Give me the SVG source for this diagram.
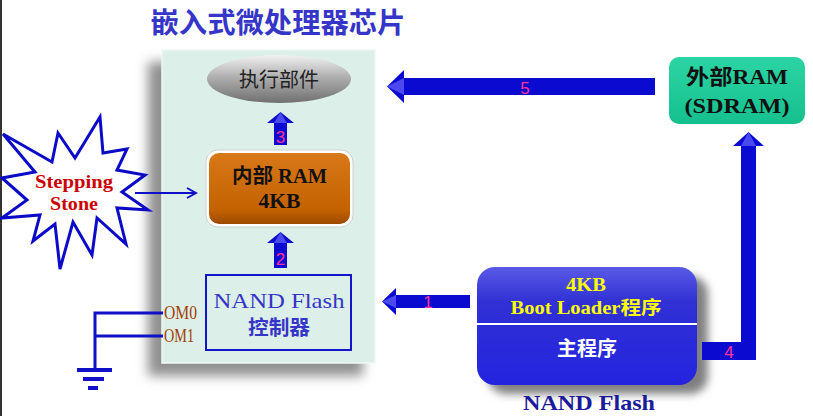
<svg xmlns="http://www.w3.org/2000/svg" width="813" height="416" viewBox="0 0 813 416">
<defs>
<style>
.serif{font-family:"Liberation Serif","Noto Sans CJK SC",serif;}
.cjk{font-family:"Noto Sans CJK SC","Liberation Serif",sans-serif;}
.big{fill:#0a0ad0;}
.bev{fill:#4a4af0;}
.num{font-family:"Liberation Sans","DejaVu Sans",sans-serif;font-size:17px;fill:#ff3399;text-anchor:middle;}
.wire{stroke:#1010c8;stroke-width:3;fill:none;}
</style>
<filter id="blur" x="-20%" y="-20%" width="140%" height="140%"><feGaussianBlur stdDeviation="6"/></filter>
<filter id="blur2" x="-20%" y="-20%" width="140%" height="140%"><feGaussianBlur stdDeviation="4"/></filter>
<linearGradient id="ell" x1="0" y1="0" x2="0" y2="1">
<stop offset="0" stop-color="#f2f2f2"/><stop offset="0.45" stop-color="#b0b0b0"/><stop offset="1" stop-color="#707070"/>
</linearGradient>
<linearGradient id="ram" x1="0" y1="0" x2="0" y2="1">
<stop offset="0" stop-color="#d87818"/><stop offset="0.8" stop-color="#c46200"/><stop offset="1" stop-color="#9c4a00"/>
</linearGradient>
<linearGradient id="nand" x1="0" y1="0" x2="0" y2="1">
<stop offset="0" stop-color="#5a5ae6"/><stop offset="0.3" stop-color="#3030d4"/><stop offset="1" stop-color="#2424e0"/>
</linearGradient>
<linearGradient id="ext" x1="0" y1="0" x2="0" y2="1">
<stop offset="0" stop-color="#2cd4a4"/><stop offset="1" stop-color="#16c08e"/>
</linearGradient>
<marker id="open" markerWidth="12" markerHeight="12" refX="10" refY="6" orient="auto" markerUnits="userSpaceOnUse">
<path d="M1,1 L10,6 L1,11" fill="none" stroke="#1010c8" stroke-width="2"/>
</marker>
</defs>
<rect x="0" y="0" width="813" height="416" fill="#ffffff"/>
<rect x="0" y="0" width="2" height="416" fill="#333333"/>

<text class="cjk" x="278" y="33" font-size="28" font-weight="bold" fill="#3535c8" text-anchor="middle" textLength="255" lengthAdjust="spacingAndGlyphs">嵌入式微处理器芯片</text>

<g id="chip">
<rect x="148" y="62" width="215" height="314" fill="#909090" filter="url(#blur)"/>
<rect x="162" y="50" width="213" height="313" fill="#dcefe8"/>
<rect x="162" y="50" width="213" height="313" fill="none" stroke="#eef8f4" stroke-width="1.5"/>
</g>

<g id="exec">
<ellipse cx="279" cy="79" rx="72" ry="24" fill="url(#ell)"/>
<text class="cjk" x="279" y="87" font-size="20" fill="#222222" text-anchor="middle">执行部件</text>
</g>

<g id="iram">
<rect x="206" y="150" width="147" height="77" rx="12" fill="#ffffff" stroke="#cfcfcf" stroke-width="1"/>
<rect x="209" y="153" width="141" height="71" rx="10" fill="url(#ram)"/>
<text class="serif" x="279.5" y="183" font-size="20" font-weight="bold" fill="#111111" text-anchor="middle" textLength="95" lengthAdjust="spacingAndGlyphs">内部 RAM</text>
<text class="serif" x="279.5" y="208" font-size="20" font-weight="bold" fill="#111111" text-anchor="middle" textLength="42" lengthAdjust="spacingAndGlyphs">4KB</text>
</g>

<g id="nandctl">
<rect x="206" y="275" width="145" height="75" fill="#dcefe8" stroke="#1414c8" stroke-width="2"/>
<text class="serif" x="279" y="308" font-size="21" fill="#3535c8" text-anchor="middle" textLength="131" lengthAdjust="spacingAndGlyphs">NAND Flash</text>
<text class="cjk" x="279" y="335" font-size="20" font-weight="bold" fill="#3535c8" text-anchor="middle" textLength="62" lengthAdjust="spacingAndGlyphs">控制器</text>
</g>

<g id="stepping">
<polygon points="3,134 52,162 58,133 75,158 100,117 103,153 127,149 117,170 145,175 122,192 148,210 117,208 126,244 97,218 92,255 73,222 60,269 55,224 33,241 40,215 2,218 27,200 2,178 35,172" fill="#ffffff" stroke="#0a0ac8" stroke-width="3" stroke-linejoin="miter"/>
<text class="serif" x="74" y="188" font-size="19" font-weight="bold" fill="#cc0000" text-anchor="middle" textLength="78" lengthAdjust="spacingAndGlyphs">Stepping</text>
<text class="serif" x="74" y="210" font-size="19" font-weight="bold" fill="#cc0000" text-anchor="middle" textLength="48" lengthAdjust="spacingAndGlyphs">Stone</text>
</g>

<g id="extram">
<rect x="669" y="57" width="136" height="67" rx="10" fill="url(#ext)"/>
<text class="serif" x="737" y="84" font-size="21" font-weight="bold" fill="#111111" text-anchor="middle" textLength="102" lengthAdjust="spacingAndGlyphs">外部RAM</text>
<text class="serif" x="737" y="113" font-size="21" font-weight="bold" fill="#111111" text-anchor="middle" textLength="105" lengthAdjust="spacingAndGlyphs">(SDRAM)</text>
</g>

<g id="nandflash">
<rect x="488" y="276" width="220" height="118" rx="18" fill="#808080" filter="url(#blur2)"/>
<rect x="477" y="267" width="220" height="118" rx="18" fill="url(#nand)"/>
<line x1="477" y1="324" x2="697" y2="324" stroke="#ffffff" stroke-width="2"/>
<text class="serif" x="586" y="291" font-size="18" font-weight="bold" fill="#ffff00" text-anchor="middle" textLength="40" lengthAdjust="spacingAndGlyphs">4KB</text>
<text class="serif" x="586" y="314" font-size="18" font-weight="bold" fill="#ffff00" text-anchor="middle" textLength="151" lengthAdjust="spacingAndGlyphs">Boot Loader程序</text>
<text class="cjk" x="587" y="356" font-size="20" font-weight="bold" fill="#ffffff" text-anchor="middle">主程序</text>
<text class="serif" x="589" y="410" font-size="22" font-weight="bold" fill="#1a1a9a" text-anchor="middle" textLength="132" lengthAdjust="spacingAndGlyphs">NAND Flash</text>
</g>

<g id="om">
<text class="serif" x="164" y="319" font-size="18" fill="#a03c00" textLength="33" lengthAdjust="spacingAndGlyphs">OM0</text>
<text class="serif" x="164" y="342" font-size="18" fill="#a03c00" textLength="30" lengthAdjust="spacingAndGlyphs">OM1</text>
</g>

<g id="connectors">
<line x1="135" y1="193" x2="196" y2="193" stroke="#1010c8" stroke-width="2" marker-end="url(#open)"/>
<polyline class="wire" points="163,313 95,313 95,370"/>
<line class="wire" x1="95" y1="336" x2="163" y2="336"/>
<line x1="77" y1="370" x2="112" y2="370" stroke="#1010c8" stroke-width="4"/>
<line x1="83" y1="379" x2="104" y2="379" stroke="#1010c8" stroke-width="4"/>
<line x1="88" y1="388" x2="98" y2="388" stroke="#1010c8" stroke-width="4"/>

<polygon class="big" points="274,145 274,123 267,123 280.5,112 294,123 287,123 287,145"/>
<polygon class="bev" points="280.5,112 274,123 287,123"/>
<text class="num" x="280.5" y="143">3</text>

<polygon class="big" points="274,268 274,243 267,243 280.5,232 294,243 287,243 287,268"/>
<polygon class="bev" points="280.5,232 274,243 287,243"/>
<text class="num" x="280.5" y="265">2</text>

<polygon class="big" points="655,78 404,78 404,70 387,86.5 404,103 404,95 655,95"/>
<polygon class="bev" points="387,86.5 404,78 404,95"/>
<text class="num" x="525" y="94">5</text>

<polygon class="big" points="470,295 396,295 396,288 382,301.5 396,315 396,308 470,308"/>
<polygon class="bev" points="382,301.5 396,295 396,308"/>
<text class="num" x="428" y="308">1</text>

<polygon class="big" points="702,342 741,342 741,146 733,146 748.5,132 764,146 756,146 756,360 702,360"/>
<polygon class="bev" points="748.5,132 741,146 756,146"/>
<text class="num" x="729" y="358">4</text>
</g>
</svg>
